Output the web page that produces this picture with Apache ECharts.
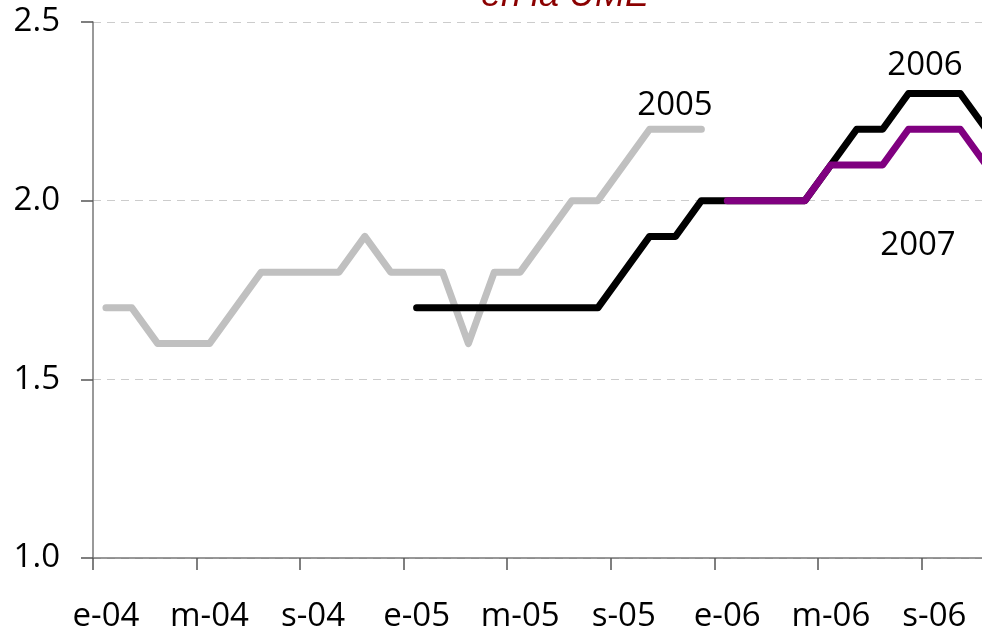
<!DOCTYPE html>
<html>
<head>
<meta charset="utf-8">
<script src="https://cdn.jsdelivr.net/npm/echarts@6/dist/echarts.min.js"></script>
<style>
  html, body { margin: 0; padding: 0; background: #ffffff; overflow: hidden; }
  /* el gráfico original sigue más allá del borde derecho */
  #chart { width: 1025px; height: 631px; }
</style>
</head>
<body>
<div id="chart"></div>
<script>
  // meses e-04 ... d-06
  var monthInitials = ['e', 'f', 'm', 'a', 'm', 'j', 'j', 'a', 's', 'o', 'n', 'd'];
  var years = ['04', '05', '06'];
  var months = [];
  years.forEach(function (y) {
    monthInitials.forEach(function (m) { months.push(m + '-' + y); });
  });

  // previsiones para 2005 (gris)
  var prev2005 = [1.7, 1.7, 1.6, 1.6, 1.6, 1.7, 1.8, 1.8, 1.8, 1.8, 1.9, 1.8,
                  1.8, 1.8, 1.6, 1.8, 1.8, 1.9, 2.0, 2.0, 2.1, 2.2, 2.2, 2.2,
                  null, null, null, null, null, null, null, null, null, null, null, null];
  // previsiones para 2006 (negro)
  var prev2006 = [null, null, null, null, null, null, null, null, null, null, null, null,
                  1.7, 1.7, 1.7, 1.7, 1.7, 1.7, 1.7, 1.7, 1.8, 1.9, 1.9, 2.0,
                  2.0, 2.0, 2.0, 2.0, 2.1, 2.2, 2.2, 2.3, 2.3, 2.3, 2.2, null];
  // previsiones para 2007 (morado)
  var prev2007 = [null, null, null, null, null, null, null, null, null, null, null, null,
                  null, null, null, null, null, null, null, null, null, null, null, null,
                  2.0, 2.0, 2.0, 2.0, 2.1, 2.1, 2.1, 2.2, 2.2, 2.2, 2.1, null];

  var seriesNames = ['2005', '2006', '2007'];
  var seriesColors = ['#c0c0c0', '#000000', '#800080'];

  var FONT = '"Open Sans"';

  var myChart = echarts.init(document.getElementById('chart'));

  function lineSeries(name, data, color) {
    return {
      name: name,
      type: 'line',
      data: data,
      symbol: 'none',
      connectNulls: false,
      lineStyle: { color: color, width: 7, cap: 'round', join: 'round' },
      animation: false
    };
  }

  var option = {
    backgroundColor: '#ffffff',
    animation: false,
    grid: { left: 93, right: 0, top: 22, bottom: 73, containLabel: false, outerBoundsMode: 'none' },
    xAxis: {
      type: 'category',
      data: months,
      boundaryGap: true,
      axisLine: { show: true, lineStyle: { color: '#777777', width: 1.5 } },
      axisTick: { show: true, interval: 3, length: 12, lineStyle: { color: '#555555', width: 1.5 } },
      axisLabel: {
        interval: 3,
        margin: 42,
        color: '#000000',
        fontFamily: FONT,
        fontSize: 33
      },
      splitLine: { show: false }
    },
    yAxis: {
      type: 'value',
      min: 1.0,
      max: 2.5,
      interval: 0.5,
      axisLine: { show: true, lineStyle: { color: '#777777', width: 1.5 } },
      axisTick: { show: true, length: 12, lineStyle: { color: '#555555', width: 1.5 } },
      axisLabel: {
        margin: 33,
        color: '#000000',
        fontFamily: FONT,
        fontSize: 33,
        padding: [5, 0, 0, 0],
        formatter: function (v) { return v.toFixed(1); }
      },
      splitLine: { show: true, lineStyle: { color: '#cccccc', type: [8, 6], width: 1 } }
    },
    series: [
      lineSeries(seriesNames[0], prev2005, seriesColors[0]),
      lineSeries(seriesNames[1], prev2006, seriesColors[1]),
      lineSeries(seriesNames[2], prev2007, seriesColors[2])
    ],
    graphic: [
      {
        type: 'text', x: 565, y: 14,
        style: { text: 'en la UME', fill: '#8b0000', font: 'italic 36px "Liberation Sans"', textAlign: 'center', textVerticalAlign: 'bottom' }
      },
      {
        type: 'text', x: 675, y: 106,
        style: { text: seriesNames[0], fill: '#000000', font: '33px ' + FONT, textAlign: 'center', textVerticalAlign: 'middle' }
      },
      {
        type: 'text', x: 925, y: 66,
        style: { text: seriesNames[1], fill: '#000000', font: '33px ' + FONT, textAlign: 'center', textVerticalAlign: 'middle' }
      },
      {
        type: 'text', x: 918, y: 246,
        style: { text: seriesNames[2], fill: '#000000', font: '33px ' + FONT, textAlign: 'center', textVerticalAlign: 'middle' }
      }
    ]
  };

  myChart.setOption(option);
</script>
</body>
</html>
